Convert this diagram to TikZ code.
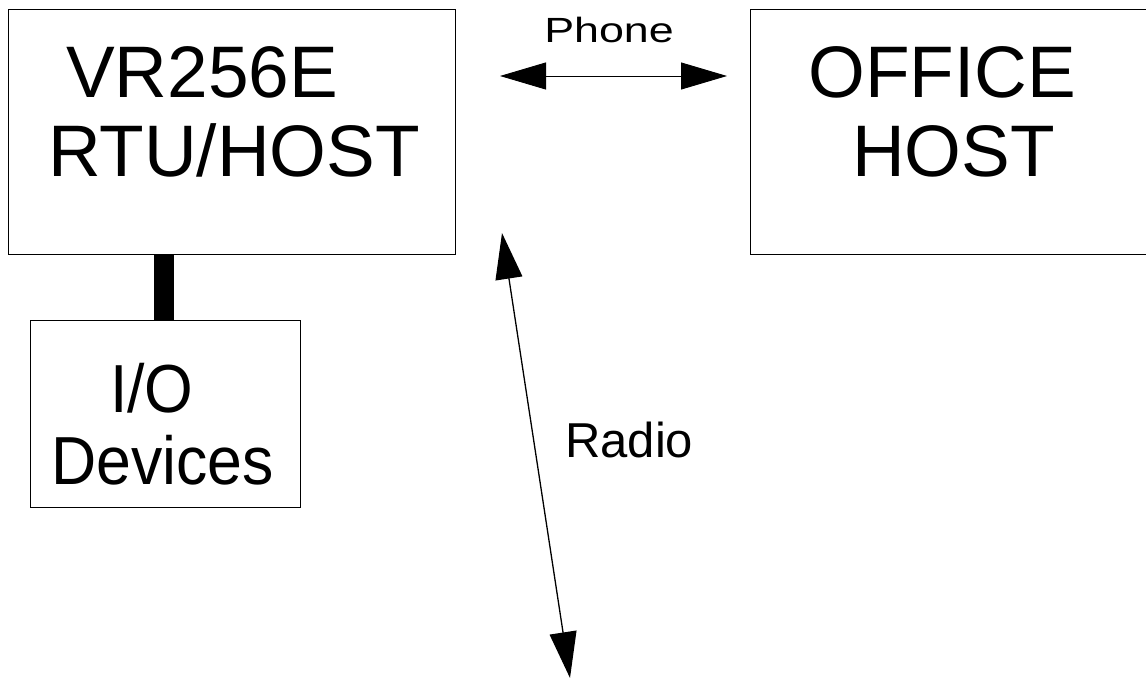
\documentclass[tikz,border=0pt]{standalone}
\usepackage{fontspec}
\setmainfont{Liberation Sans}
\usetikzlibrary{arrows.meta}
\begin{document}
\begin{tikzpicture}[x=1pt,y=-1pt,
  box/.style={draw,line width=1.4pt,inner sep=0pt,anchor=north west},
  lbl/.style={anchor=base west,inner sep=0pt},
  big/.style={lbl,font=\fontsize{73}{80}\selectfont},
  link/.style={line width=1.1pt,{Triangle[length=46pt,width=27pt]}-{Triangle[length=46pt,width=27pt]}}]
\useasboundingbox (0,0) rectangle (1146,679);
% boxes
\node[box,minimum width=447pt,minimum height=245pt] (rtu) at (8,9) {};
\node[box,minimum width=400pt,minimum height=245pt] (office) at (750,9) {};
\node[box,minimum width=270pt,minimum height=187pt] (io) at (30,320) {};
% texts
\node[big] (t1) at (66,98) {VR256E};
\node[big] (t2) at (48,177) {RTU/HOST};
\node[big] (t3) at (808,98) {OFFICE};
\node[big] (t4) at (852,177) {HOST};
\node[lbl,font=\fontsize{68}{74}\selectfont,xscale=0.92] (t5) at (110,412) {I/O};
\node[lbl,font=\fontsize{68}{74}\selectfont,xscale=0.92] (t6) at (51,484) {Devices};
\node[lbl,font=\fontsize{49}{54}\selectfont] (radio) at (565,457) {Radio};
\node[lbl,font=\fontsize{35}{40}\selectfont,xscale=1.28] (phone) at (544,43) {Phone};
% connectors
\coordinate (barx) at (164,0);
\draw[line width=20pt] (barx |- rtu.south) -- (barx |- io.north);
\coordinate (p1) at (500,76);
\coordinate (p2) at (727,76);
\draw[link,line width=0.9pt] (p1) -- (p2);
\coordinate (r1) at (502,233);
\coordinate (r2) at (570,678);
\draw[link,line width=1.3pt] (r1) -- (r2);
\end{tikzpicture}
\end{document}
